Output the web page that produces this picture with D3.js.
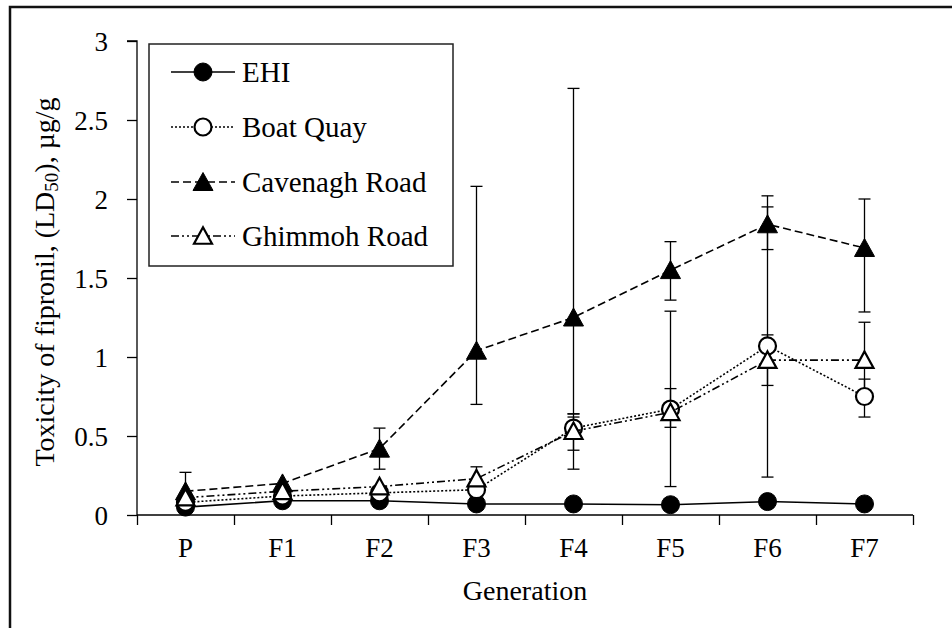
<!DOCTYPE html>
<html>
<head>
<meta charset="utf-8">
<script src="https://cdn.jsdelivr.net/npm/d3@7"></script>
<style>
  html, body { margin: 0; padding: 0; background: #fff; }
  svg text { font-family: "Liberation Serif", Tinos, "Times New Roman", Times, "DejaVu Serif", "Noto Serif", serif !important; fill: #000; }
</style>
</head>
<body>
<svg id="chart" width="952" height="628"></svg>
<script>
// ---- data ----
const generations = ["P", "F1", "F2", "F3", "F4", "F5", "F6", "F7"];
const seriesNames = ["EHI", "Boat Quay", "Cavenagh Road", "Ghimmoh Road"];
const ehi       = [0.05, 0.09, 0.09, 0.07, 0.07, 0.065, 0.085, 0.07];
const boatQuay  = [0.08, 0.12, 0.14, 0.16, 0.55, 0.67, 1.07, 0.75];
const cavenagh  = [0.15, 0.20, 0.42, 1.04, 1.25, 1.55, 1.84, 1.69];
const ghimmoh   = [0.11, 0.15, 0.18, 0.23, 0.53, 0.65, 0.98, 0.98];
// 95% limits (lower, upper); null = no bar visible
const ehiLo      = [null, null, null, null, null, null, null, null];
const ehiHi      = [null, null, null, null, null, null, null, null];
const boatQuayLo = [null, null, null, null, 0.41, 0.555, 0.24, 0.62];
const boatQuayHi = [null, null, null, null, 0.62, 0.80, 1.95, 0.86];
const cavenaghLo = [0.06, null, 0.29, 0.70, 0.64, 1.36, 1.68, 1.285];
const cavenaghHi = [0.27, null, 0.55, 2.08, 2.70, 1.73, 2.02, 2.00];
const ghimmohLo  = [null, null, null, 0.16, 0.29, 0.18, 0.82, 0.74];
const ghimmohHi  = [null, null, null, 0.305, 0.64, 1.29, 1.14, 1.22];
const yTicks = [0, 0.5, 1, 1.5, 2, 2.5, 3];

const series = [
  { name: seriesNames[0], values: ehi, lo: ehiLo, hi: ehiHi, dash: null, marker: "circle", filled: true },
  { name: seriesNames[1], values: boatQuay, lo: boatQuayLo, hi: boatQuayHi, dash: "2,2", marker: "circle", filled: false },
  { name: seriesNames[2], values: cavenagh, lo: cavenaghLo, hi: cavenaghHi, dash: "8,4", marker: "triangle", filled: true },
  { name: seriesNames[3], values: ghimmoh, lo: ghimmohLo, hi: ghimmohHi, dash: "8,3,2,3,2,3", marker: "triangle", filled: false }
];

// ---- layout ----
const svg = d3.select("#chart");
const pLeft = 137, pRight = 913, pTop = 41, pBottom = 515;
const FONT = '"Liberation Serif", Tinos, "Times New Roman", Times, "DejaVu Serif", serif';

// outer frame (extends past right/bottom of the picture)
svg.append("rect").attr("x", 10).attr("y", 7).attr("width", 1000).attr("height", 700)
  .attr("fill", "none").attr("stroke", "#111").attr("stroke-width", 2.5);

const x = d3.scaleBand().domain(generations).range([pLeft, pRight]).padding(0);
const xc = d => x(d) + x.bandwidth() / 2;
const y = d3.scaleLinear().domain([0, 3]).range([pBottom, pTop]);

// y axis
const yAxis = svg.append("g").attr("transform", `translate(${pLeft},0)`)
  .call(d3.axisLeft(y).tickValues(yTicks).tickSize(10).tickPadding(19).tickFormat(d => String(d)));
yAxis.attr("font-family", FONT);
yAxis.selectAll("text").attr("font-size", 27).attr("dy", "0.34em");
yAxis.selectAll("path, line").attr("stroke", "#000").attr("stroke-width", 1.3);
yAxis.select(".domain").attr("d", `M-10,${pTop}H0V${pBottom}`);

// x axis: boundary ticks
const xb = d3.scaleLinear().domain([0, generations.length]).range([pLeft, pRight]);
const xAxisTicks = svg.append("g").attr("transform", `translate(0,${pBottom})`)
  .call(d3.axisBottom(xb).ticks(generations.length).tickSize(10).tickFormat(""));
xAxisTicks.selectAll("path, line").attr("stroke", "#000").attr("stroke-width", 1.3);
xAxisTicks.select(".domain").attr("d", `M${pLeft},0H${pRight}`);

// x axis labels
const xAxisLabels = svg.append("g").attr("transform", `translate(0,${pBottom})`)
  .call(d3.axisBottom(x).tickSize(0).tickPadding(23));
xAxisLabels.attr("font-family", FONT);
xAxisLabels.select(".domain").remove();
xAxisLabels.selectAll("text").attr("font-size", 27);

// axis titles
svg.append("text").attr("x", (pLeft + pRight) / 2).attr("y", 600)
  .attr("text-anchor", "middle").attr("font-size", 28).text("Generation");

const yt = svg.append("text").attr("transform", "translate(54,282) rotate(-90)")
  .attr("text-anchor", "middle").attr("font-size", 28);
yt.append("tspan").text("Toxicity of fipronil, (LD");
yt.append("tspan").attr("font-size", 19).attr("baseline-shift", "-4").text("50");
yt.append("tspan").text("), µg/g");

// marker drawing helper
function drawMarker(g, type, filled, cx, cy) {
  if (type === "circle") {
    g.append("circle").attr("cx", cx).attr("cy", cy).attr("r", filled ? 9 : 8.5)
      .attr("fill", filled ? "#000" : "#fff").attr("stroke", "#000").attr("stroke-width", filled ? 1 : 2.2);
  } else {
    const w = filled ? 20 : 18, h = filled ? 17 : 15.5;
    const pts = [[cx, cy - h / 2 - 1], [cx + w / 2, cy + h / 2], [cx - w / 2, cy + h / 2]];
    g.append("path").attr("d", "M" + pts.join("L") + "Z")
      .attr("fill", filled ? "#000" : "#fff").attr("stroke", "#000").attr("stroke-width", filled ? 1 : 2.2)
      .attr("stroke-linejoin", "miter");
  }
}

const plot = svg.append("g");
const line = d3.line().x((d, i) => xc(generations[i])).y(d => y(d));

// error bars
series.forEach(s => {
  const g = plot.append("g");
  generations.forEach((c, i) => {
    if (s.lo[i] == null || s.hi[i] == null) return;
    const cx = xc(c);
    const y1 = y(Math.max(0, s.lo[i])), y2 = y(s.hi[i]);
    g.append("line").attr("x1", cx).attr("x2", cx).attr("y1", y1).attr("y2", y2)
      .attr("stroke", "#000").attr("stroke-width", 1.3);
    [y1, y2].forEach(yy => g.append("line").attr("x1", cx - 6).attr("x2", cx + 6)
      .attr("y1", yy).attr("y2", yy).attr("stroke", "#000").attr("stroke-width", 1.3));
  });
});

// lines and markers
series.forEach(s => {
  const g = plot.append("g");
  g.append("path").attr("d", line(s.values)).attr("fill", "none").attr("stroke", "#000")
    .attr("stroke-width", 1.6).attr("stroke-dasharray", s.dash);
  s.values.forEach((v, i) => drawMarker(g, s.marker, s.filled, xc(generations[i]), y(v)));
});

// legend
const legX = 149, legY = 44, legW = 304, legH = 222;
svg.append("rect").attr("x", legX).attr("y", legY).attr("width", legW).attr("height", legH)
  .attr("fill", "#fff").attr("stroke", "#222").attr("stroke-width", 1.5);
const legRows = [72, 127, 182, 236];
series.forEach((s, i) => {
  const g = svg.append("g");
  const ly = legRows[i];
  g.append("line").attr("x1", 171).attr("x2", 235).attr("y1", ly).attr("y2", ly)
    .attr("stroke", "#000").attr("stroke-width", 1.6).attr("stroke-dasharray", s.dash);
  drawMarker(g, s.marker, s.filled, 203, ly);
  g.append("text").attr("x", 242).attr("y", ly).attr("dy", "0.35em")
    .attr("font-size", 29).text(s.name);
});
</script>
</body>
</html>
